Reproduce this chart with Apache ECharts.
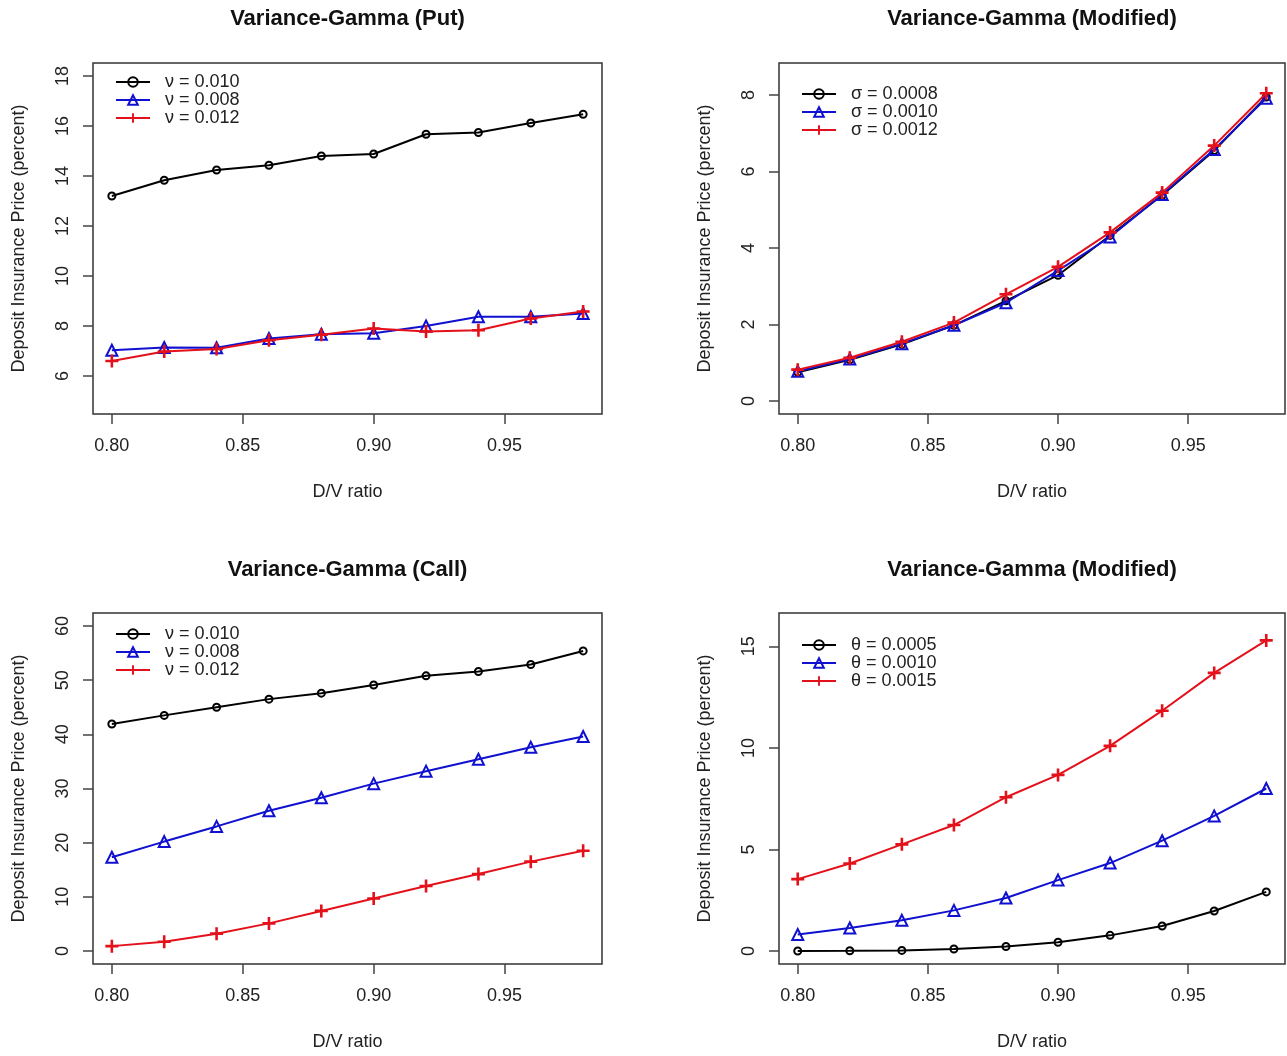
<!DOCTYPE html>
<html>
<head>
<meta charset="utf-8">
<script src="https://cdn.jsdelivr.net/npm/echarts@6/dist/echarts.min.js"></script>
<style>
html,body{margin:0;padding:0;background:#fff;}
#chart{width:1287px;height:1056px;}
</style>
</head>
<body>
<div id="chart"></div>
<script>
// ---------- data ----------
const dvRatio = [0.80, 0.82, 0.84, 0.86, 0.88, 0.90, 0.92, 0.94, 0.96, 0.98];
const xTicks = [0.80, 0.85, 0.90, 0.95];

// Panel 1: Variance-Gamma (Put)
const putNu010 = [13.20, 13.83, 14.24, 14.43, 14.80, 14.88, 15.67, 15.74, 16.12, 16.47];
const putNu008 = [7.03, 7.14, 7.13, 7.50, 7.67, 7.71, 8.00, 8.37, 8.37, 8.50];
const putNu012 = [6.60, 6.98, 7.08, 7.43, 7.65, 7.90, 7.78, 7.83, 8.30, 8.58];
const putYTicks = [6, 8, 10, 12, 14, 16, 18];

// Panel 2: Variance-Gamma (Modified), sigma
const modSigma0008 = [0.75, 1.08, 1.48, 1.98, 2.62, 3.29, 4.33, 5.38, 6.55, 7.95];
const modSigma0010 = [0.78, 1.10, 1.50, 1.98, 2.57, 3.41, 4.29, 5.40, 6.58, 7.92];
const modSigma0012 = [0.82, 1.13, 1.55, 2.05, 2.79, 3.51, 4.41, 5.45, 6.68, 8.05];
const modSigmaYTicks = [0, 2, 4, 6, 8];

// Panel 3: Variance-Gamma (Call)
const callNu010 = [41.9, 43.5, 45.0, 46.5, 47.6, 49.1, 50.8, 51.6, 52.9, 55.4];
const callNu008 = [17.3, 20.2, 23.0, 25.9, 28.3, 30.9, 33.2, 35.4, 37.6, 39.6];
const callNu012 = [0.9, 1.7, 3.2, 5.1, 7.4, 9.7, 12.0, 14.2, 16.5, 18.5];
const callYTicks = [0, 10, 20, 30, 40, 50, 60];

// Panel 4: Variance-Gamma (Modified), theta
const modTheta0005 = [0.00, 0.01, 0.03, 0.10, 0.22, 0.43, 0.77, 1.23, 1.97, 2.91];
const modTheta0010 = [0.81, 1.13, 1.51, 2.00, 2.61, 3.49, 4.33, 5.43, 6.65, 8.00];
const modTheta0015 = [3.54, 4.31, 5.25, 6.20, 7.57, 8.67, 10.10, 11.83, 13.69, 15.29];
const modThetaYTicks = [0, 5, 10, 15];

const titles = ['Variance-Gamma (Put)', 'Variance-Gamma (Modified)', 'Variance-Gamma (Call)', 'Variance-Gamma (Modified)'];
const nuNames = ['\u03bd = 0.010', '\u03bd = 0.008', '\u03bd = 0.012'];
const sigmaNames = ['\u03c3 = 0.0008', '\u03c3 = 0.0010', '\u03c3 = 0.0012'];
const thetaNames = ['\u03b8 = 0.0005', '\u03b8 = 0.0010', '\u03b8 = 0.0015'];
const xLabel = 'D/V ratio';
const yLabel = 'Deposit Insurance Price (percent)';

// ---------- layout / style ----------
const FONT = '"Liberation Sans", Arial, sans-serif';
const BLACK = '#000000', BLUE = '#1010d0', RED = '#e4101a';
const PLUS = 'path://M4,0h2v4h4v2h-4v4h-2v-4h-4v-2h4z';

const panels = [
  {title: titles[0], names: nuNames, vals: [putNu010, putNu008, putNu012], ticks: putYTicks, ymin: 4.48, ymax: 18.52,
   left: 93, top: 63, width: 509, height: 351, legTop: 73},
  {title: titles[1], names: sigmaNames, vals: [modSigma0008, modSigma0010, modSigma0012], ticks: modSigmaYTicks, ymin: -0.34, ymax: 8.84,
   left: 779, top: 63, width: 506, height: 351, legTop: 85},
  {title: titles[2], names: nuNames, vals: [callNu010, callNu008, callNu012], ticks: callYTicks, ymin: -2.4, ymax: 62.4,
   left: 93, top: 613, width: 509, height: 351, legTop: 625},
  {title: titles[3], names: thetaNames, vals: [modTheta0005, modTheta0010, modTheta0015], ticks: modThetaYTicks, ymin: -0.64, ymax: 16.64,
   left: 779, top: 613, width: 506, height: 351, legTop: 636}
];

const styles = [
  {color: BLACK, symbol: 'circle', size: 7, fill: 'rgba(255,255,255,0)', bw: 2},
  {color: BLUE, symbol: 'triangle', size: 11, fill: 'rgba(255,255,255,0)', bw: 2},
  {color: RED, symbol: PLUS, size: 13, fill: RED, bw: 0}
];

const grid = [], xAxis = [], yAxis = [], series = [], legend = [], title = [];
panels.forEach((p, i) => {
  grid.push({left: p.left, top: p.top, width: p.width, height: p.height, show: true,
    borderColor: '#333', borderWidth: 1.5, backgroundColor: 'transparent', containLabel: false});
  title.push({text: p.title, left: p.left + p.width / 2, top: i < 2 ? 8 : 559, textAlign: 'center', padding: 0,
    textStyle: {fontFamily: FONT, fontSize: 22, fontWeight: 'bold', color: '#111'}});
  xAxis.push({type: 'value', gridIndex: i, min: 0.7928, max: 0.9872,
    axisLine: {show: false, onZero: false}, splitLine: {show: false},
    axisTick: {show: true, length: 10, inside: false, customValues: xTicks, lineStyle: {color: '#444', width: 1.5}},
    axisLabel: {show: true, margin: 23, customValues: xTicks, formatter: v => v.toFixed(2),
      fontFamily: FONT, fontSize: 18, color: '#222'},
    name: xLabel, nameLocation: 'middle', nameGap: 69,
    nameTextStyle: {fontFamily: FONT, fontSize: 18, color: '#222'}});
  yAxis.push({type: 'value', gridIndex: i, min: p.ymin, max: p.ymax,
    axisLine: {show: false, onZero: false}, splitLine: {show: false},
    axisTick: {show: true, length: 10, inside: false, customValues: p.ticks, lineStyle: {color: '#444', width: 1.5}},
    axisLabel: {show: true, margin: 21, rotate: 90, customValues: p.ticks,
      fontFamily: FONT, fontSize: 18, color: '#222'},
    name: yLabel, nameLocation: 'middle', nameGap: 65, nameRotate: 90,
    nameTextStyle: {fontFamily: FONT, fontSize: 18, color: '#222'}});
  p.vals.forEach((arr, k) => {
    const s = styles[k];
    series.push({type: 'line', name: p.names[k], xAxisIndex: i, yAxisIndex: i,
      data: dvRatio.map((x, j) => [x, arr[j]]),
      symbol: s.symbol, symbolSize: s.size, showAllSymbol: true,
      lineStyle: {color: s.color, width: 2},
      itemStyle: {color: s.fill, borderColor: s.color, borderWidth: s.bw},
      emphasis: {disabled: true}, z: 3 + k});
  });
  legend.push({orient: 'vertical', left: p.left + 22, top: p.legTop, padding: 0, itemGap: 0,
    itemWidth: 34, itemHeight: 12, data: p.names, selectedMode: false,
    textStyle: {fontFamily: FONT, fontSize: 18, lineHeight: 17.5, color: '#222', padding: [0, 0, 0, 10]}});
});

const chart = echarts.init(document.getElementById('chart'), null, {renderer: 'canvas'});
chart.setOption({animation: false, backgroundColor: '#fff', title, grid, xAxis, yAxis, series, legend});
</script>
</body>
</html>
